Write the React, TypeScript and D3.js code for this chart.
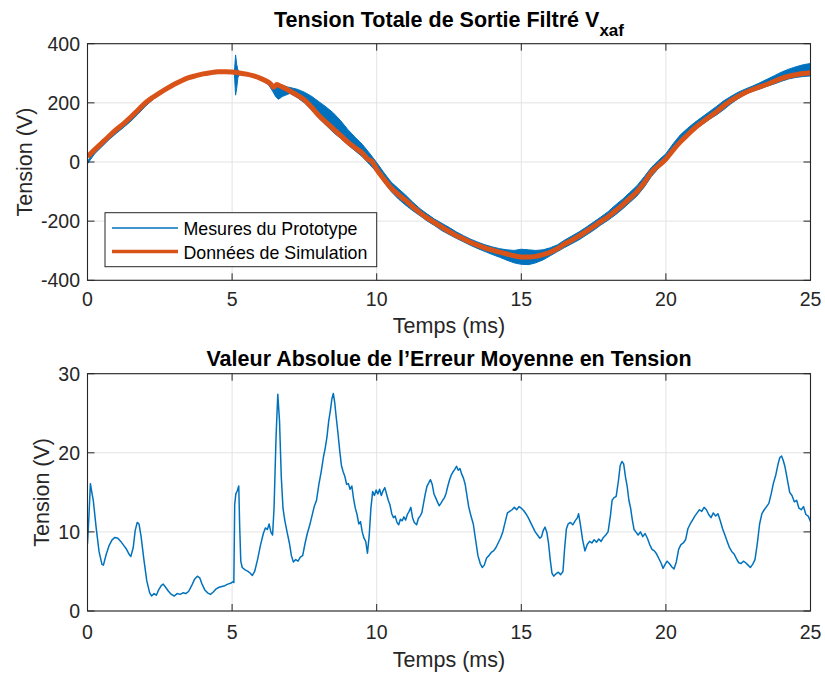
import React from "react";
import * as d3 from "d3";

// ---------- data ----------
const TIME_TICKS = [0, 5, 10, 15, 20, 25];
const TOP_Y_TICKS = [-400, -200, 0, 200, 400];
const BOT_Y_TICKS = [0, 10, 20, 30];

const TOP_TITLE_MAIN = "Tension Totale de Sortie Filtré V";
const TOP_TITLE_SUB = "xaf";
const BOT_TITLE = "Valeur Absolue de l’Erreur Moyenne en Tension";
const X_LABEL = "Temps (ms)";
const Y_LABEL = "Tension (V)";
const LEGEND = ["Mesures du Prototype", "Données de Simulation"];

// simulation (orange)
const simT = [0, 0.25, 0.5, 0.75, 1, 1.25, 1.5, 1.75, 2, 2.25, 2.5, 2.75, 3, 3.25, 3.5, 3.75, 4, 4.25, 4.5, 4.75, 5, 5.25, 5.5, 5.75, 6, 6.25, 6.32, 6.43, 6.55, 6.7, 7, 7.25, 7.5, 7.75, 8, 8.25, 8.5, 8.75, 9, 9.25, 9.5, 9.7, 9.82, 9.9, 10, 10.25, 10.5, 10.75, 11, 11.25, 11.5, 11.75, 12, 12.25, 12.5, 12.75, 13, 13.25, 13.5, 13.75, 14, 14.25, 14.5, 14.75, 15, 15.25, 15.5, 15.75, 16, 16.25, 16.5, 16.75, 17, 17.25, 17.5, 17.75, 18, 18.25, 18.5, 18.75, 19, 19.25, 19.5, 19.75, 20, 20.25, 20.5, 20.75, 21, 21.25, 21.5, 21.75, 22, 22.25, 22.5, 22.75, 23, 23.25, 23.5, 23.75, 24, 24.25, 24.5, 24.75, 25];
const simV = [18, 42, 65, 88, 110, 130, 152, 176, 200, 218, 234, 249, 263, 275, 285, 292, 298, 302, 305, 305, 304, 301, 297, 291, 282, 270, 265, 253, 262, 255, 240, 226, 210, 185, 157, 134, 112, 90, 67, 48, 30, 9, 3, -8, -25, -58, -88, -110, -130, -152, -172, -190, -205, -220, -235, -249, -260, -272, -282, -291, -298, -305, -311, -317, -321, -321, -319, -313, -305, -293, -277, -264, -250, -234, -218, -201, -185, -165, -145, -123, -100, -70, -35, -12, 10, 40, 68, 92, 115, 134, 152, 170, 190, 208, 222, 235, 245, 254, 263, 273, 283, 290, 295, 299, 302];

// measurement envelope (blue band)
const measT = [0, 0.25, 0.5, 0.75, 1, 1.25, 1.5, 1.75, 2, 2.25, 2.5, 2.75, 3, 3.25, 3.5, 3.75, 4, 4.25, 4.5, 4.75, 5, 5.08, 5.12, 5.16, 5.2, 5.25, 5.5, 5.75, 6, 6.25, 6.4, 6.5, 6.6, 6.75, 6.9, 7, 7.25, 7.5, 7.75, 8, 8.25, 8.5, 8.75, 9, 9.25, 9.5, 9.75, 10, 10.25, 10.5, 10.75, 11, 11.25, 11.5, 11.75, 12, 12.25, 12.5, 12.75, 13, 13.25, 13.5, 13.75, 14, 14.25, 14.5, 14.75, 15, 15.25, 15.5, 15.75, 16, 16.25, 16.5, 16.75, 17, 17.25, 17.5, 17.75, 18, 18.25, 18.5, 18.75, 19, 19.25, 19.5, 19.75, 20, 20.25, 20.5, 20.75, 21, 21.25, 21.5, 21.75, 22, 22.25, 22.5, 22.75, 23, 23.25, 23.5, 23.75, 24, 24.25, 24.5, 24.75, 25];
const measHi = [2, 40, 62, 86, 108, 128, 150, 174, 198, 218, 235, 251, 265, 278, 288, 296, 301, 305, 306, 307, 306, 305, 362, 330, 312, 306, 300, 295, 286, 274, 262, 262, 264, 260, 254, 252, 246, 236, 222, 204, 186, 166, 140, 110, 84, 60, 30, -2, -36, -68, -90, -112, -136, -158, -176, -193, -207, -221, -236, -249, -261, -271, -280, -287, -293, -297, -299, -295, -297, -299, -297, -290, -280, -264, -250, -236, -220, -203, -186, -168, -146, -126, -103, -80, -50, -18, 6, 28, 62, 92, 114, 134, 152, 170, 188, 207, 222, 236, 247, 257, 268, 280, 292, 304, 314, 322, 329, 333];
const measLo = [-6, 28, 52, 76, 97, 117, 138, 162, 188, 210, 228, 243, 258, 270, 281, 289, 295, 298, 299, 300, 299, 298, 226, 250, 285, 295, 292, 286, 277, 262, 240, 222, 212, 222, 228, 232, 218, 200, 176, 148, 124, 100, 80, 58, 38, 18, -8, -34, -68, -100, -125, -146, -165, -182, -200, -215, -232, -245, -258, -270, -282, -293, -303, -313, -322, -332, -341, -346, -347, -341, -331, -317, -303, -289, -276, -263, -247, -231, -213, -197, -179, -159, -137, -115, -85, -49, -21, 1, 33, 61, 85, 109, 126, 144, 159, 177, 197, 214, 229, 239, 247, 256, 264, 273, 281, 286, 289, 291];

// absolute mean error (bottom)
const errT = [0, 0.05, 0.1, 0.15, 0.2, 0.3, 0.4, 0.5, 0.55, 0.65, 0.75, 0.85, 0.95, 1.05, 1.15, 1.25, 1.35, 1.45, 1.5, 1.58, 1.65, 1.72, 1.78, 1.85, 1.95, 2.05, 2.15, 2.22, 2.3, 2.38, 2.45, 2.55, 2.62, 2.7, 2.8, 2.9, 3, 3.1, 3.2, 3.3, 3.4, 3.5, 3.6, 3.7, 3.8, 3.88, 3.95, 4.05, 4.15, 4.25, 4.35, 4.45, 4.55, 4.65, 4.75, 4.85, 4.95, 5.02, 5.06, 5.09, 5.13, 5.18, 5.23, 5.26, 5.3, 5.35, 5.45, 5.55, 5.62, 5.7, 5.78, 5.88, 5.98, 6.08, 6.15, 6.22, 6.28, 6.34, 6.4, 6.45, 6.52, 6.58, 6.64, 6.7, 6.76, 6.82, 6.9, 6.98, 7.05, 7.12, 7.2, 7.28, 7.36, 7.44, 7.52, 7.6, 7.68, 7.76, 7.84, 7.92, 8, 8.08, 8.16, 8.22, 8.28, 8.34, 8.4, 8.45, 8.5, 8.55, 8.6, 8.66, 8.72, 8.78, 8.84, 8.9, 8.96, 9.02, 9.08, 9.14, 9.2, 9.26, 9.32, 9.38, 9.44, 9.5, 9.56, 9.62, 9.68, 9.74, 9.8, 9.86, 9.92, 9.98, 10.04, 10.1, 10.16, 10.22, 10.28, 10.34, 10.4, 10.46, 10.52, 10.58, 10.64, 10.7, 10.76, 10.82, 10.88, 10.94, 11, 11.06, 11.12, 11.18, 11.24, 11.3, 11.38, 11.44, 11.5, 11.56, 11.62, 11.68, 11.74, 11.8, 11.86, 11.92, 11.98, 12.04, 12.1, 12.16, 12.22, 12.28, 12.34, 12.4, 12.46, 12.52, 12.58, 12.64, 12.7, 12.76, 12.82, 12.88, 12.94, 13, 13.06, 13.12, 13.18, 13.26, 13.34, 13.42, 13.5, 13.58, 13.65, 13.72, 13.8, 13.88, 13.96, 14.04, 14.12, 14.2, 14.28, 14.36, 14.44, 14.52, 14.6, 14.68, 14.76, 14.84, 14.92, 15, 15.08, 15.16, 15.24, 15.32, 15.4, 15.48, 15.56, 15.64, 15.7, 15.76, 15.82, 15.88, 15.94, 16, 16.06, 16.12, 16.2, 16.28, 16.36, 16.44, 16.5, 16.56, 16.62, 16.7, 16.78, 16.86, 16.94, 16.98, 17.04, 17.12, 17.2, 17.28, 17.36, 17.44, 17.52, 17.6, 17.68, 17.76, 17.84, 17.92, 18, 18.08, 18.14, 18.2, 18.28, 18.36, 18.42, 18.48, 18.54, 18.6, 18.66, 18.72, 18.78, 18.84, 18.9, 18.96, 19.04, 19.12, 19.2, 19.28, 19.36, 19.44, 19.52, 19.6, 19.68, 19.76, 19.84, 19.9, 19.96, 20.04, 20.12, 20.2, 20.28, 20.36, 20.44, 20.52, 20.6, 20.68, 20.76, 20.84, 20.92, 21, 21.08, 21.16, 21.24, 21.32, 21.4, 21.48, 21.56, 21.64, 21.72, 21.8, 21.88, 21.96, 22.04, 22.12, 22.2, 22.28, 22.36, 22.44, 22.52, 22.6, 22.68, 22.76, 22.84, 22.92, 23, 23.08, 23.16, 23.24, 23.32, 23.4, 23.48, 23.56, 23.64, 23.72, 23.8, 23.88, 23.94, 24, 24.06, 24.12, 24.2, 24.28, 24.36, 24.44, 24.52, 24.6, 24.68, 24.76, 24.84, 24.92, 25];
const errV = [8.5, 12, 16.1, 15, 14, 10.5, 7.5, 5.9, 5.8, 7.2, 8.3, 9.0, 9.3, 9.2, 8.8, 8.3, 7.8, 7.1, 6.9, 8.0, 10.2, 11.2, 11.0, 9.5, 6.5, 3.8, 2.3, 1.9, 2.2, 2.0, 2.6, 3.2, 3.4, 3.0, 2.5, 2.1, 1.9, 2.2, 2.1, 2.3, 2.2, 2.5, 3.2, 4.0, 4.4, 4.2, 3.5, 2.7, 2.3, 2.1, 2.4, 2.8, 3.0, 3.1, 3.2, 3.4, 3.5, 3.7, 3.6, 13.5, 14.8, 15.2, 15.8, 11, 6.3, 5.5, 5.2, 5.0, 4.8, 4.5, 5.0, 6.5, 8.3, 9.8, 10.5, 10.3, 11.0, 10.0, 9.6, 13, 22, 27.4, 24, 17, 13, 11.5, 10, 8.6, 7.0, 6.2, 6.5, 6.3, 6.8, 7.0, 8.5, 9.8, 10.8, 12.0, 13.2, 14.0, 16.0, 17.6, 19.5, 20.6, 22.0, 24.0, 25.4, 26.8, 27.5, 26.3, 24.5, 22.5, 20.3, 18.4, 17.6, 17.0, 16.0, 16.1, 15.4, 15.8, 14.2, 13.0, 12.2, 11.0, 11.3, 10.0, 9.2, 8.8, 7.3, 9.5, 13.0, 15.1, 14.6, 15.3, 14.8, 15.4, 14.6, 15.2, 15.6, 14.8, 14.0, 13.4, 12.3, 11.8, 12.0, 11.2, 10.9, 11.6, 11.4, 11.9, 11.5, 12.2, 12.6, 13.1, 11.8, 11.2, 10.9, 11.7, 12.0, 12.4, 13.6, 14.8, 15.8, 16.2, 16.6, 16.0, 14.8, 14.3, 13.8, 13.3, 13.6, 14.0, 14.3, 14.9, 15.8, 16.6, 17.2, 17.6, 17.9, 18.3, 17.8, 18.0, 17.3, 16.8, 16.0, 14.6, 13.2, 12.0, 11.0, 9.0, 7.0, 6.0, 5.5, 5.8, 6.7, 7.0, 7.4, 7.6, 8.0, 8.6, 9.2, 10.0, 11.2, 12.4, 12.6, 12.8, 13.1, 12.8, 13.2, 13.0, 12.7, 12.3, 11.8, 11.2, 10.6, 10.0, 9.6, 9.2, 9.4, 10.2, 10.6, 10.0, 8.6, 6.5, 4.8, 4.4, 4.7, 4.9, 4.6, 5.0, 8.0, 10.4, 11.0, 11.2, 10.9, 11.4, 11.8, 12.3, 11.0, 9.0, 7.6, 8.4, 8.8, 8.6, 9.0, 8.7, 9.1, 8.8, 9.3, 9.6, 10.0, 12.0, 14.0, 14.3, 14.5, 16.5, 18.4, 18.9, 18.6, 17.0, 15.8, 14.0, 13.0, 11.5, 10.3, 10.0, 9.6, 10.0, 9.4, 9.8, 9.2, 8.4, 7.8, 7.6, 7.2, 6.6, 6.0, 5.4, 5.8, 6.3, 6.0, 5.6, 5.3, 6.2, 7.8, 8.4, 8.6, 9.0, 10.4, 11.0, 11.5, 12.0, 12.4, 12.8, 12.6, 13.1, 12.8, 12.2, 11.8, 12.4, 12.0, 12.3, 11.4, 10.4, 9.6, 8.8, 8.0, 7.5, 7.2, 6.6, 6.1, 6.0, 6.3, 6.1, 5.8, 5.5, 5.9, 6.5, 8.5, 11.0, 12.3, 12.8, 13.2, 13.6, 14.8, 16.2, 17.2, 18.6, 19.4, 19.6, 19.0, 18.2, 16.6, 15.0, 14.6, 13.8, 14.0, 13.0, 12.8, 13.2, 12.2, 12.0, 11.3];

// ---------- styles ----------
const FONT = "'Liberation Sans', Arial, Helvetica, sans-serif";
const AXIS_COLOR = "#262626";
const GRID_COLOR = "#e3e3e3";
const BLUE = "#0072BD";
const ORANGE = "#D95319";

const X0 = 87.5;
const X1 = 810.5;

export default function App() {
  const x = d3.scaleLinear().domain([0, 25]).range([X0, X1]);
  const yTop = d3.scaleLinear().domain([-400, 400]).range([280.3, 43.7]);
  const yBot = d3.scaleLinear().domain([0, 30]).range([611, 373.7]);

  const simPath = d3
    .line<number>()
    .x((_, i) => x(simT[i]))
    .y((d) => yTop(d))
    .curve(d3.curveMonotoneX)(simV) as string;

  const bandPath = d3
    .area<number>()
    .x((_, i) => x(measT[i]))
    .y0((_, i) => yTop(measLo[i]))
    .y1((d) => yTop(d))
    .curve(d3.curveLinear)(measHi) as string;

  const errPath = d3
    .line<number>()
    .x((_, i) => x(errT[i]))
    .y((d) => yBot(d))(errV) as string;

  const renderAxes = (
    y: d3.ScaleLinear<number, number>,
    yTicks: number[],
    key: string,
    tickLabelY: number
  ) => {
    const [yb, yt] = y.range();
    return (
      <g key={key}>
        {TIME_TICKS.map((t) => (
          <g key={"xt" + t}>
            <line x1={x(t)} x2={x(t)} y1={yb} y2={yb - 7} stroke={AXIS_COLOR} strokeWidth={1} />
            <line x1={x(t)} x2={x(t)} y1={yt} y2={yt + 7} stroke={AXIS_COLOR} strokeWidth={1} />
            <text x={x(t)} y={tickLabelY} textAnchor="middle" fontSize={19.5} fill={AXIS_COLOR} fontFamily={FONT}>
              {t}
            </text>
          </g>
        ))}
        {yTicks.map((v) => (
          <g key={"yt" + v}>
            <line x1={X0} x2={X0 + 7} y1={y(v)} y2={y(v)} stroke={AXIS_COLOR} strokeWidth={1} />
            <line x1={X1} x2={X1 - 7} y1={y(v)} y2={y(v)} stroke={AXIS_COLOR} strokeWidth={1} />
            <text x={80} y={y(v) + 6.8} textAnchor="end" fontSize={19.5} fill={AXIS_COLOR} fontFamily={FONT}>
              {v}
            </text>
          </g>
        ))}
        <rect x={X0} y={yt} width={X1 - X0} height={yb - yt} fill="none" stroke={AXIS_COLOR} strokeWidth={1.1} />
      </g>
    );
  };

  const renderGrid = (y: d3.ScaleLinear<number, number>, yTicks: number[]) => {
    const [yb, yt] = y.range();
    return (
      <g>
        {TIME_TICKS.map((t) => (
          <line key={"gx" + t} x1={x(t)} x2={x(t)} y1={yt} y2={yb} stroke={GRID_COLOR} strokeWidth={1} />
        ))}
        {yTicks.map((v) => (
          <line key={"gy" + v} x1={X0} x2={X1} y1={y(v)} y2={y(v)} stroke={GRID_COLOR} strokeWidth={1} />
        ))}
      </g>
    );
  };

  return (
    <svg
      width={825}
      height={675}
      style={{ position: "absolute", left: 0, top: 0, background: "#fff" }}
      fontFamily={FONT}
    >
      <defs>
        <clipPath id="clipTop">
          <rect x={X0} y={43.7} width={X1 - X0} height={280.3 - 43.7} />
        </clipPath>
        <clipPath id="clipBot">
          <rect x={X0} y={373.7} width={X1 - X0} height={611 - 373.7} />
        </clipPath>
      </defs>
      <rect x={0} y={0} width={825} height={675} fill="#fff" />

      {/* ---- top panel ---- */}
      {renderGrid(yTop, TOP_Y_TICKS)}
      <g clipPath="url(#clipTop)">
        <path d={bandPath} fill={BLUE} stroke={BLUE} strokeWidth={1} />
        <path d={simPath} fill="none" stroke={ORANGE} strokeWidth={5} strokeLinejoin="round" />
      </g>
      {renderAxes(yTop, TOP_Y_TICKS, "top", 306)}
      <text x={449} y={27.3} textAnchor="middle" fontSize={21.5} fontWeight="bold" fill="#000">
        {TOP_TITLE_MAIN}
        <tspan fontSize={17} dy={8.5}>
          {TOP_TITLE_SUB}
        </tspan>
      </text>
      <text x={449} y={333} textAnchor="middle" fontSize={21.5} fill={AXIS_COLOR}>
        {X_LABEL}
      </text>
      <text
        transform={`translate(32, ${(43.7 + 280.3) / 2}) rotate(-90)`}
        textAnchor="middle"
        fontSize={21.5}
        fill={AXIS_COLOR}
      >
        {Y_LABEL}
      </text>

      {/* legend */}
      <g>
        <rect x={105} y={212.7} width={271.7} height={54} fill="#fff" stroke={AXIS_COLOR} strokeWidth={1} />
        <line x1={112} x2={178} y1={228} y2={228} stroke={BLUE} strokeWidth={1.5} />
        <line x1={112} x2={178} y1={251.5} y2={251.5} stroke={ORANGE} strokeWidth={3.5} />
        <text x={183.5} y={235} fontSize={17.8} fill="#000">
          {LEGEND[0]}
        </text>
        <text x={183.5} y={259} fontSize={17.8} fill="#000">
          {LEGEND[1]}
        </text>
      </g>

      {/* ---- bottom panel ---- */}
      {renderGrid(yBot, BOT_Y_TICKS)}
      <g clipPath="url(#clipBot)">
        <path d={errPath} fill="none" stroke={BLUE} strokeWidth={1.5} strokeLinejoin="round" />
      </g>
      {renderAxes(yBot, BOT_Y_TICKS, "bot", 639)}
      <text x={449} y={366} textAnchor="middle" fontSize={21.5} fontWeight="bold" fill="#000">
        {BOT_TITLE}
      </text>
      <text x={449} y={667} textAnchor="middle" fontSize={21.5} fill={AXIS_COLOR}>
        {X_LABEL}
      </text>
      <text
        transform={`translate(49, ${(373.7 + 611) / 2}) rotate(-90)`}
        textAnchor="middle"
        fontSize={21.5}
        fill={AXIS_COLOR}
      >
        {Y_LABEL}
      </text>
    </svg>
  );
}
